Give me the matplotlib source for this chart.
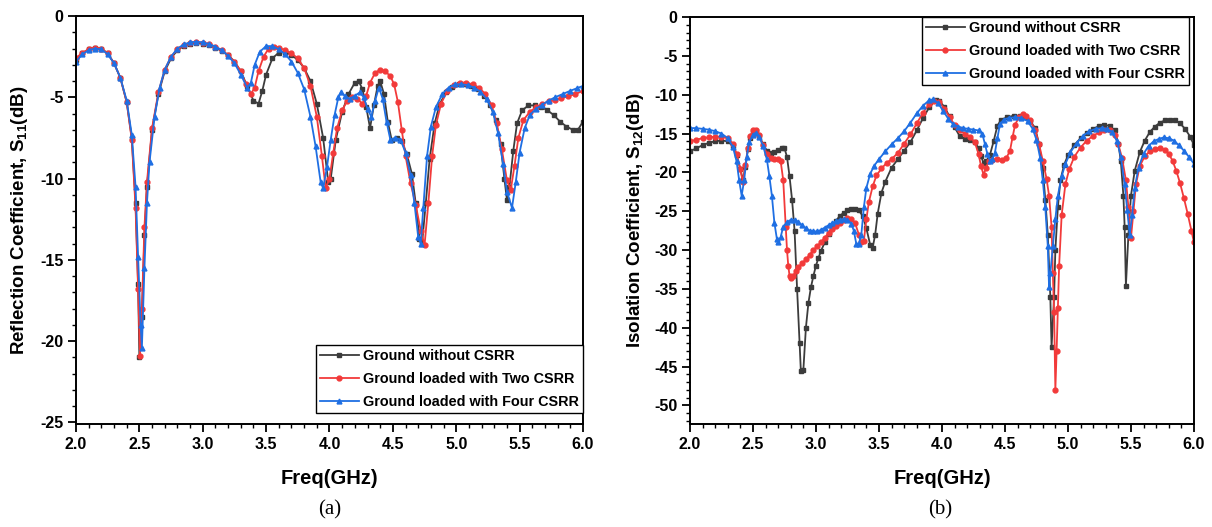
import matplotlib
matplotlib.use('Agg')
import matplotlib.pyplot as plt
from matplotlib.ticker import MultipleLocator, AutoMinorLocator

# ---- data: S11 (reflection) ----
f11_no  =[2.00,2.05,2.10,2.15,2.20,2.25,2.30,2.35,2.40,2.44,2.47,2.49,2.50,2.52,2.54,2.56,2.60,2.65,2.70,2.75,
          2.80,2.85,2.90,2.95,3.00,3.05,3.10,3.15,3.20,3.25,3.30,3.35,3.40,3.44,3.47,3.50,3.55,3.60,3.65,3.70,
          3.75,3.80,3.85,3.90,3.95,3.99,4.01,4.05,4.10,4.15,4.20,4.23,4.26,4.29,4.32,4.35,4.38,4.40,4.43,4.46,
          4.49,4.53,4.57,4.61,4.65,4.68,4.71,4.73,4.76,4.79,4.83,4.87,4.92,4.97,5.02,5.07,5.12,5.17,5.22,5.27,
          5.31,5.35,5.38,5.40,5.42,5.45,5.48,5.52,5.57,5.62,5.67,5.72,5.77,5.82,5.87,5.92,5.96,6.00]
s11_no  =[-2.7,-2.3,-2.05,-1.95,-2.0,-2.3,-2.9,-3.8,-5.3,-7.5,-11.5,-16.5,-21.0,-18.5,-13.5,-10.5,-7.0,-4.8,-3.4,-2.6,
          -2.1,-1.85,-1.7,-1.65,-1.7,-1.8,-1.95,-2.15,-2.4,-2.8,-3.4,-4.3,-5.2,-5.4,-4.6,-3.6,-2.6,-2.25,-2.2,-2.4,
          -2.7,-3.2,-4.0,-5.4,-7.5,-10.2,-10.0,-7.6,-5.9,-4.8,-4.1,-4.0,-4.5,-5.6,-6.9,-5.5,-4.3,-4.0,-4.8,-6.5,
          -7.6,-7.5,-7.7,-8.5,-9.7,-11.5,-13.7,-14.0,-11.5,-8.8,-6.6,-5.4,-4.7,-4.35,-4.2,-4.2,-4.3,-4.5,-4.9,-5.5,
          -6.4,-7.9,-10.0,-11.3,-10.5,-8.3,-6.6,-5.8,-5.5,-5.5,-5.6,-5.8,-6.1,-6.5,-6.8,-7.0,-7.0,-6.5]

f11_two =[2.00,2.05,2.10,2.15,2.20,2.25,2.30,2.35,2.40,2.44,2.47,2.49,2.505,2.52,2.54,2.56,2.60,2.65,2.70,2.75,
          2.80,2.85,2.90,2.95,3.00,3.05,3.10,3.15,3.20,3.25,3.30,3.34,3.38,3.41,3.44,3.48,3.52,3.56,3.60,3.65,
          3.70,3.75,3.80,3.85,3.90,3.94,3.97,4.00,4.03,4.06,4.10,4.14,4.18,4.22,4.26,4.29,4.32,4.36,4.40,4.44,
          4.48,4.51,4.54,4.57,4.60,4.64,4.68,4.72,4.75,4.78,4.81,4.84,4.88,4.93,4.98,5.03,5.08,5.13,5.18,5.23,
          5.28,5.32,5.36,5.40,5.43,5.46,5.49,5.53,5.58,5.63,5.68,5.73,5.78,5.83,5.88,5.94,6.00]
s11_two =[-2.6,-2.25,-2.05,-1.95,-2.0,-2.3,-2.9,-3.8,-5.3,-7.6,-11.8,-16.8,-20.9,-18.0,-13.0,-10.2,-6.9,-4.7,-3.3,-2.5,
          -2.05,-1.8,-1.65,-1.6,-1.65,-1.75,-1.9,-2.1,-2.4,-2.8,-3.4,-4.2,-4.8,-4.4,-3.4,-2.5,-2.0,-1.9,-1.95,-2.1,
          -2.3,-2.6,-3.2,-4.3,-6.2,-8.6,-10.6,-10.0,-8.4,-6.9,-5.8,-5.2,-5.0,-5.1,-5.4,-4.9,-4.1,-3.5,-3.3,-3.4,
          -3.7,-4.2,-5.3,-7.0,-8.6,-10.3,-11.6,-13.2,-14.1,-11.5,-8.6,-6.7,-5.4,-4.6,-4.25,-4.1,-4.1,-4.2,-4.4,-4.8,
          -5.5,-6.6,-8.2,-10.1,-10.7,-9.2,-7.5,-6.4,-5.9,-5.6,-5.4,-5.25,-5.15,-5.05,-4.95,-4.8,-4.6]

f11_four=[2.00,2.05,2.10,2.15,2.20,2.25,2.30,2.35,2.40,2.44,2.47,2.49,2.51,2.52,2.54,2.56,2.58,2.62,2.66,2.70,
          2.75,2.80,2.85,2.90,2.95,3.00,3.05,3.10,3.15,3.20,3.25,3.30,3.35,3.38,3.41,3.45,3.50,3.55,3.60,3.65,
          3.70,3.75,3.80,3.85,3.89,3.93,3.95,3.98,4.01,4.04,4.07,4.09,4.12,4.16,4.20,4.24,4.27,4.30,4.33,4.36,
          4.39,4.42,4.45,4.48,4.52,4.56,4.60,4.64,4.67,4.70,4.72,4.74,4.77,4.80,4.84,4.89,4.94,4.99,5.04,5.09,
          5.14,5.19,5.24,5.29,5.33,5.37,5.40,5.44,5.47,5.50,5.54,5.58,5.63,5.68,5.73,5.78,5.84,5.90,5.95,6.00]
s11_four=[-2.8,-2.35,-2.1,-2.0,-2.05,-2.35,-2.9,-3.8,-5.2,-7.3,-10.5,-14.8,-19.0,-20.4,-15.5,-11.5,-9.0,-6.2,-4.4,-3.3,
          -2.5,-2.0,-1.75,-1.62,-1.58,-1.62,-1.72,-1.88,-2.1,-2.45,-2.9,-3.6,-4.4,-4.1,-3.0,-2.2,-1.85,-1.85,-2.05,-2.35,
          -2.8,-3.5,-4.5,-6.2,-8.0,-10.2,-10.6,-9.3,-7.6,-6.1,-5.0,-4.7,-4.9,-5.1,-4.9,-4.7,-5.0,-5.7,-6.2,-5.2,
          -4.4,-5.1,-6.5,-7.6,-7.5,-7.6,-8.4,-9.8,-11.5,-13.6,-14.0,-11.8,-8.6,-6.8,-5.6,-4.8,-4.4,-4.2,-4.2,-4.25,
          -4.4,-4.65,-5.1,-5.9,-7.2,-9.1,-10.8,-11.8,-10.2,-8.4,-6.9,-6.1,-5.7,-5.45,-5.2,-5.0,-4.8,-4.6,-4.45,-4.3]

# ---- data: S12 (isolation) ----
f12_no  =[2.00,2.05,2.10,2.15,2.20,2.25,2.30,2.34,2.37,2.40,2.42,2.44,2.46,2.48,2.50,2.52,2.55,2.58,2.61,2.64,
          2.67,2.70,2.73,2.75,2.77,2.79,2.81,2.83,2.85,2.87,2.88,2.90,2.92,2.94,2.96,2.98,3.00,3.02,3.04,3.07,
          3.10,3.13,3.16,3.19,3.22,3.25,3.28,3.31,3.34,3.37,3.40,3.43,3.45,3.47,3.49,3.52,3.55,3.60,3.65,3.70,
          3.75,3.80,3.85,3.90,3.95,3.98,4.02,4.06,4.10,4.14,4.18,4.22,4.26,4.29,4.31,4.33,4.35,4.38,4.41,4.44,
          4.47,4.52,4.57,4.62,4.66,4.70,4.74,4.77,4.80,4.82,4.84,4.86,4.87,4.89,4.90,4.92,4.94,4.97,5.00,5.05,
          5.10,5.15,5.20,5.25,5.29,5.33,5.37,5.40,5.42,5.44,5.45,5.46,5.48,5.50,5.53,5.57,5.61,5.65,5.69,5.73,
          5.77,5.81,5.85,5.89,5.93,5.97,6.00]
s12_no  =[-17.3,-16.9,-16.5,-16.2,-16.0,-15.9,-16.0,-16.6,-17.8,-19.6,-21.0,-19.3,-17.0,-15.6,-14.9,-14.7,-15.3,-16.4,-17.2,-17.5,
          -17.4,-17.1,-16.8,-16.9,-18.0,-20.5,-23.5,-27.5,-35.0,-42.0,-45.6,-45.4,-40.0,-36.8,-34.8,-33.3,-32.0,-31.0,-30.1,-29.0,
          -27.9,-27.0,-26.2,-25.6,-25.2,-24.9,-24.7,-24.7,-24.9,-25.6,-27.2,-29.3,-29.7,-28.0,-25.3,-22.6,-21.2,-19.4,-18.3,-17.2,
          -16.1,-14.6,-13.0,-11.6,-10.7,-10.8,-11.6,-12.8,-14.2,-15.3,-15.7,-15.8,-16.1,-16.9,-17.9,-18.8,-18.6,-17.8,-16.0,-14.0,
          -13.2,-12.9,-12.7,-12.7,-12.9,-13.4,-14.3,-16.3,-19.5,-23.5,-28.0,-36.0,-42.5,-36.0,-30.0,-24.5,-21.0,-19.0,-17.8,-16.5,
          -15.6,-14.9,-14.4,-14.0,-13.9,-14.0,-14.6,-16.3,-18.6,-23.0,-27.0,-34.6,-28.0,-23.0,-19.8,-17.4,-15.9,-14.8,-14.1,-13.6,
          -13.3,-13.2,-13.3,-13.7,-14.4,-15.4,-16.5]

f12_two =[2.00,2.05,2.10,2.15,2.20,2.25,2.30,2.34,2.37,2.40,2.42,2.44,2.46,2.48,2.50,2.52,2.55,2.58,2.61,2.64,
          2.67,2.70,2.72,2.74,2.76,2.77,2.78,2.79,2.80,2.82,2.84,2.86,2.89,2.92,2.95,2.98,3.01,3.04,3.07,3.10,
          3.13,3.16,3.19,3.22,3.25,3.28,3.31,3.34,3.36,3.38,3.40,3.42,3.45,3.48,3.52,3.56,3.60,3.65,3.70,3.75,
          3.80,3.85,3.90,3.94,3.98,4.02,4.06,4.10,4.14,4.18,4.22,4.26,4.29,4.31,4.33,4.35,4.37,4.40,4.44,4.48,
          4.51,4.54,4.56,4.58,4.61,4.64,4.67,4.70,4.74,4.77,4.80,4.83,4.85,4.87,4.88,4.89,4.90,4.91,4.92,4.93,
          4.95,4.98,5.01,5.05,5.10,5.15,5.20,5.25,5.29,5.33,5.37,5.40,5.43,5.46,5.48,5.50,5.52,5.54,5.57,5.61,
          5.65,5.69,5.73,5.77,5.80,5.83,5.86,5.89,5.92,5.95,5.98,6.00]
s12_two =[-16.0,-15.8,-15.6,-15.5,-15.4,-15.4,-15.6,-16.3,-17.6,-19.6,-21.3,-19.0,-16.8,-15.3,-14.6,-14.5,-15.2,-16.5,-17.6,-18.1,
          -18.3,-18.3,-18.6,-21.0,-27.0,-30.0,-32.0,-33.3,-33.6,-33.3,-32.7,-32.2,-31.7,-31.2,-30.6,-30.0,-29.5,-29.0,-28.4,-27.8,
          -27.3,-26.9,-26.5,-26.1,-25.9,-26.0,-26.5,-28.0,-29.0,-28.8,-26.0,-23.8,-21.8,-20.4,-19.5,-18.8,-18.3,-17.5,-16.3,-15.1,
          -13.7,-12.3,-11.2,-10.8,-11.0,-11.8,-12.9,-13.9,-14.6,-15.0,-15.4,-16.1,-17.6,-19.2,-20.3,-19.4,-18.6,-18.4,-18.3,-18.4,
          -18.2,-17.2,-15.5,-13.9,-12.9,-12.5,-12.7,-13.3,-14.6,-16.3,-18.5,-20.8,-23.0,-27.0,-33.0,-38.0,-48.0,-43.0,-37.5,-32.0,
          -25.5,-21.5,-19.6,-18.0,-16.8,-15.9,-15.3,-14.8,-14.5,-14.6,-15.2,-16.4,-18.2,-21.0,-24.5,-28.5,-25.0,-21.5,-19.2,-17.9,
          -17.3,-17.0,-16.9,-17.1,-17.6,-18.5,-19.8,-21.4,-23.3,-25.3,-27.5,-29.0]

f12_four=[2.00,2.05,2.10,2.15,2.20,2.25,2.30,2.34,2.37,2.39,2.41,2.43,2.45,2.47,2.50,2.52,2.55,2.58,2.61,2.63,
          2.65,2.67,2.69,2.70,2.72,2.74,2.77,2.80,2.83,2.86,2.89,2.92,2.95,2.98,3.01,3.04,3.07,3.10,3.13,3.16,
          3.19,3.22,3.25,3.28,3.30,3.32,3.34,3.36,3.38,3.40,3.43,3.46,3.50,3.55,3.60,3.65,3.70,3.75,3.80,3.85,
          3.90,3.93,3.97,4.01,4.05,4.09,4.13,4.17,4.21,4.25,4.29,4.32,4.34,4.36,4.38,4.40,4.42,4.44,4.46,4.49,
          4.53,4.58,4.63,4.68,4.72,4.75,4.78,4.80,4.82,4.84,4.85,4.86,4.88,4.90,4.92,4.95,4.98,5.02,5.07,5.12,
          5.17,5.22,5.27,5.31,5.35,5.39,5.42,5.45,5.47,5.49,5.51,5.53,5.56,5.60,5.64,5.68,5.72,5.76,5.80,5.84,
          5.88,5.92,5.96,6.00]
s12_four=[-14.3,-14.3,-14.4,-14.5,-14.7,-15.0,-15.6,-16.7,-18.6,-21.0,-23.0,-21.0,-18.0,-16.1,-15.2,-14.9,-15.4,-16.6,-18.3,-20.5,
          -23.0,-26.5,-28.6,-29.0,-28.3,-27.0,-26.4,-26.1,-26.1,-26.4,-26.8,-27.2,-27.5,-27.6,-27.6,-27.4,-27.1,-26.8,-26.5,-26.3,
          -26.1,-26.0,-26.1,-26.6,-27.5,-29.2,-29.2,-28.0,-24.5,-22.0,-20.2,-19.2,-18.3,-17.3,-16.4,-15.6,-14.7,-13.6,-12.4,-11.4,
          -10.7,-10.6,-11.1,-12.1,-13.1,-13.8,-14.1,-14.3,-14.4,-14.5,-14.6,-15.0,-16.3,-17.6,-18.5,-18.3,-17.5,-15.6,-13.8,-13.2,
          -13.0,-12.9,-13.0,-13.4,-14.4,-15.8,-18.2,-21.0,-24.5,-29.5,-34.8,-33.0,-29.5,-26.0,-23.0,-20.5,-18.9,-17.4,-16.2,-15.3,
          -14.7,-14.4,-14.3,-14.4,-14.8,-16.0,-18.0,-21.5,-24.8,-28.0,-25.5,-22.0,-19.4,-17.6,-16.6,-16.0,-15.7,-15.5,-15.6,-15.9,
          -16.5,-17.2,-18.0,-18.9]

labels=['Ground without CSRR','Ground loaded with Two CSRR','Ground loaded with Four CSRR']
colors=['#3c3c3c','#f23a3a','#1f6fe3']
markers=['s','o','^']

plt.rcParams['font.family']=['Liberation Sans','DejaVu Sans']
plt.rcParams['font.weight']='bold'
plt.rcParams['mathtext.fontset']='custom'
plt.rcParams['mathtext.bf']='Liberation Sans:bold'
plt.rcParams['mathtext.rm']='Liberation Sans:bold'
plt.rcParams['mathtext.default']='bf'

fig=plt.figure(figsize=(12.12,5.27),dpi=100)
ax1=fig.add_axes([0.0627,0.1954,0.4183,0.7742])
ax2=fig.add_axes([0.5693,0.1954,0.4158,0.7723])

def style_axis(ax,ylim,ylabel,ylab_x):
    ax.set_xlim(2.0,6.0)
    ax.set_ylim(*ylim)
    ax.xaxis.set_major_locator(MultipleLocator(0.5))
    ax.xaxis.set_minor_locator(AutoMinorLocator(5))
    ax.yaxis.set_major_locator(MultipleLocator(5))
    ax.yaxis.set_minor_locator(AutoMinorLocator(5))
    ax.xaxis.set_major_formatter(matplotlib.ticker.FormatStrFormatter('%.1f'))
    ax.yaxis.set_major_formatter(matplotlib.ticker.FormatStrFormatter('%d'))
    ax.tick_params(which='major',direction='out',length=6,width=1.3,labelsize=11.5,pad=3)
    ax.tick_params(which='minor',direction='out',length=3,width=1.0)
    for sp in ax.spines.values():
        sp.set_linewidth(1.4)
    ax.set_xlabel('Freq(GHz)',fontsize=14.5,fontweight='bold')
    ax.xaxis.set_label_coords(0.5,-0.11)
    ax.set_ylabel(ylabel,fontsize=13.5,fontweight='bold')
    ax.yaxis.set_label_coords(ylab_x,0.5)

def add_legend(ax,loc,anchor):
    leg=ax.legend(loc=loc,bbox_to_anchor=anchor,borderaxespad=0,fancybox=False,
                  edgecolor='black',framealpha=1,fontsize=10.4,handlelength=2.7,labelspacing=0.62,
                  borderpad=0.28,handletextpad=0.3)
    leg.get_frame().set_linewidth(1.0)

# (a) reflection
for x,y,lab,c,m in zip([f11_no,f11_two,f11_four],[s11_no,s11_two,s11_four],labels,colors,markers):
    ax1.plot(x,y,color=c,marker=m,markersize=3.5,linewidth=1.3,label=lab)
style_axis(ax1,(-25.1,0),'Reflection Coefficient, S$_{11}$(dB)',-0.09)
add_legend(ax1,'lower right',(1.0,0.027))

# (b) isolation
for x,y,lab,c,m in zip([f12_no,f12_two,f12_four],[s12_no,s12_two,s12_four],labels,colors,markers):
    ax2.plot(x,y,color=c,marker=m,markersize=3.5,linewidth=1.3,label=lab)
style_axis(ax2,(-52.4,0),'Isolation Coefficient, S$_{12}$(dB)',-0.088)
add_legend(ax2,'upper right',(0.99,1.0))

fig.text(0.272,0.032,'(a)',fontsize=15,fontweight='normal',family='Liberation Serif',ha='center',va='center')
fig.text(0.776,0.032,'(b)',fontsize=15,fontweight='normal',family='Liberation Serif',ha='center',va='center')

fig.savefig('out.png',dpi=100)
